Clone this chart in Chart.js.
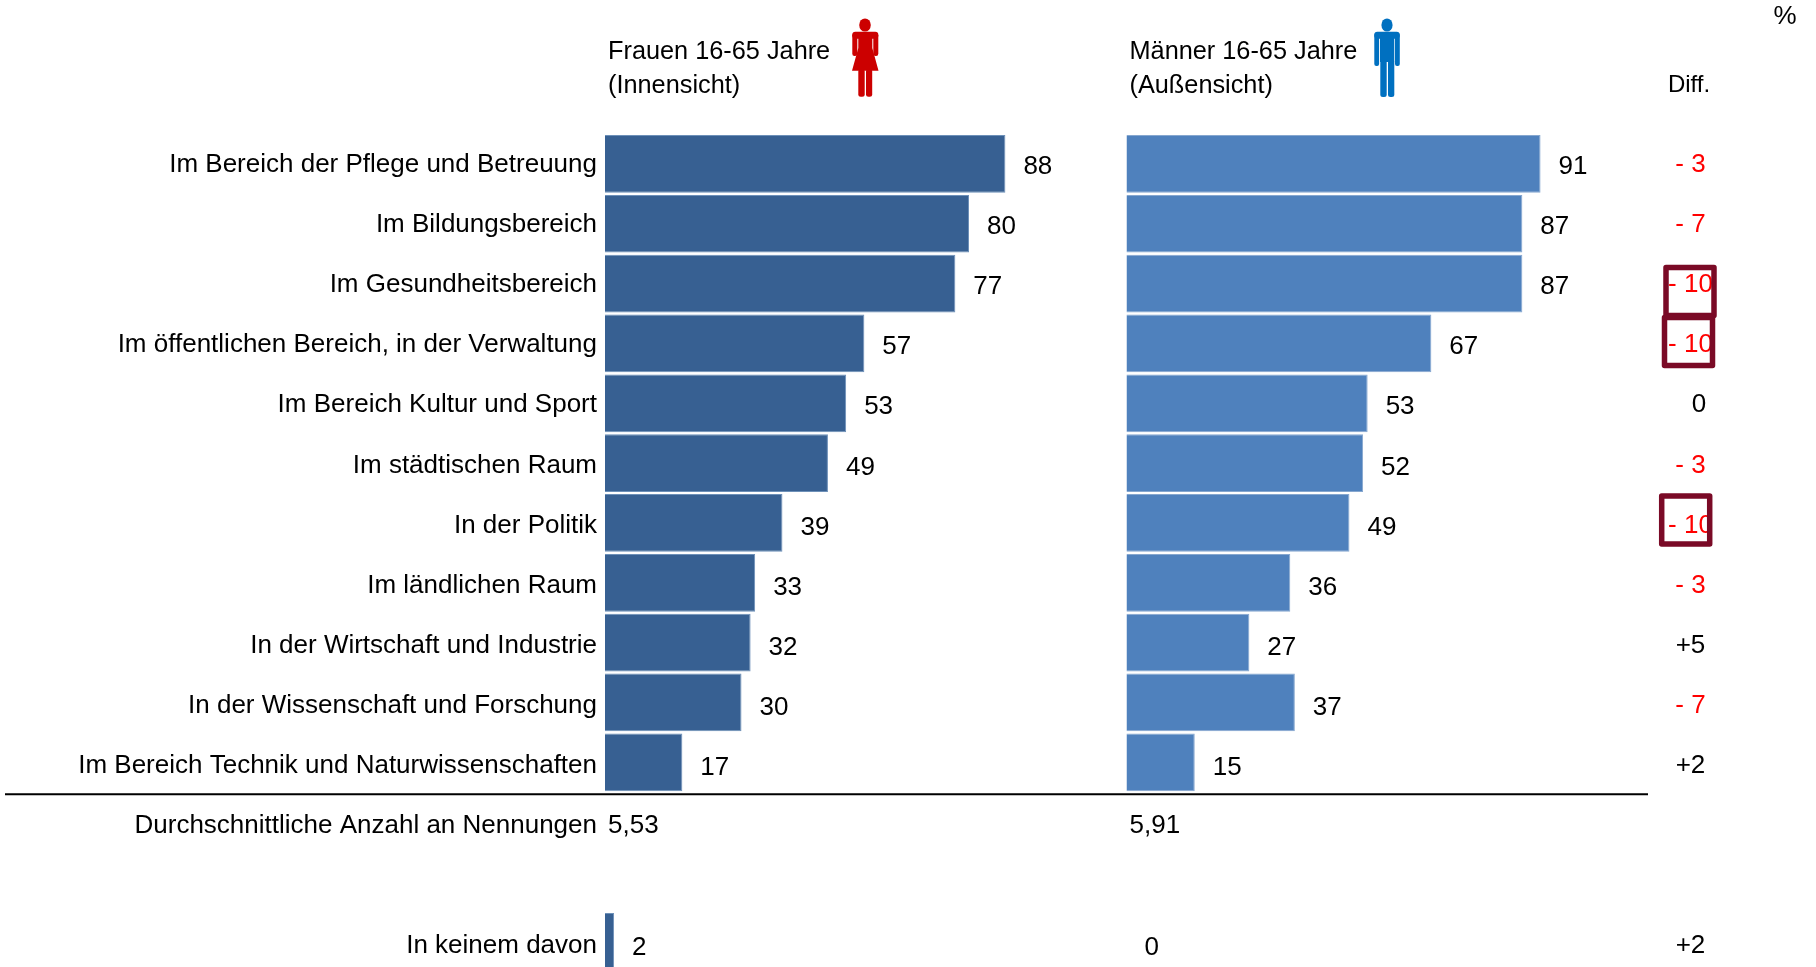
<!DOCTYPE html>
<html>
<head>
  <title>Frauen / Männer</title>
  <script src="https://cdn.jsdelivr.net/npm/chart.js"></script>
  <style>
    html, body { margin: 0; padding: 0; background: #fff; overflow: hidden; }
    canvas { display: block; }
  </style>
</head>
<body>
  <canvas id="chart" width="1816" height="1000"></canvas>

  <script>
    const categories = [
      'Im Bereich der Pflege und Betreuung',
      'Im Bildungsbereich',
      'Im Gesundheitsbereich',
      'Im öffentlichen Bereich, in der Verwaltung',
      'Im Bereich Kultur und Sport',
      'Im städtischen Raum',
      'In der Politik',
      'Im ländlichen Raum',
      'In der Wirtschaft und Industrie',
      'In der Wissenschaft und Forschung',
      'Im Bereich Technik und Naturwissenschaften',
      'Durchschnittliche Anzahl an Nennungen',
      '',
      'In keinem davon'
    ];
    const frauen = [88, 80, 77, 57, 53, 49, 39, 33, 32, 30, 17, null, null, 2];
    const maenner = [91, 87, 87, 67, 53, 52, 49, 36, 27, 37, 15, null, null, 0];
    const diffs = ['- 3', '- 7', '- 10', '- 10', '0', '- 3', '- 10', '- 3', '+5', '- 7', '+2', '', '', '+2'];
    const averages = ['5,53', '5,91'];
    const headers = [['Frauen 16-65 Jahre', '(Innensicht)'], ['Männer 16-65 Jahre', '(Außensicht)']];

    const FAMILY = '"Liberation Sans", Arial, sans-serif';
    const PX_PER_UNIT = 4.55;
    const LEFT = 605, RIGHT_ZERO = 1126.5, W = 1816;

    function drawWoman(c) {
      c.fillStyle = '#cc0000';
      c.beginPath(); c.ellipse(865, 25, 5.8, 6.6, 0, 0, 7); c.fill();
      c.beginPath(); c.roundRect(852.3, 31.7, 26, 7, 3); c.fill();
      c.beginPath(); c.roundRect(852.3, 33, 5, 23, 2.2); c.fill();
      c.beginPath(); c.roundRect(873.3, 33, 5, 23, 2.2); c.fill();
      c.beginPath();
      c.moveTo(858.3, 33); c.lineTo(872.3, 33); c.lineTo(872.3, 48);
      c.lineTo(878.5, 70.7); c.lineTo(852, 70.7); c.lineTo(858.3, 48);
      c.closePath(); c.fill();
      c.beginPath(); c.roundRect(858.3, 69, 6.4, 27.7, 2.5); c.fill();
      c.beginPath(); c.roundRect(866, 69, 6.2, 27.7, 2.5); c.fill();
    }

    function drawMan(c) {
      c.fillStyle = '#0070c0';
      c.beginPath(); c.ellipse(1387, 25, 5.6, 6.6, 0, 0, 7); c.fill();
      c.beginPath(); c.roundRect(1374.3, 31.7, 25.4, 7, 3); c.fill();
      c.beginPath(); c.roundRect(1374.3, 33, 4.8, 33, 2); c.fill();
      c.beginPath(); c.roundRect(1395, 33, 4.8, 33, 2); c.fill();
      c.fillRect(1380, 33, 14.3, 29);
      c.beginPath(); c.roundRect(1380.3, 60, 6.4, 37, 2.5); c.fill();
      c.beginPath(); c.roundRect(1388, 60, 6.3, 37, 2.5); c.fill();
    }

    const overlay = {
      id: 'overlay',
      afterDatasetsDraw(chart) {
        const c = chart.ctx;
        const y = chart.scales.y;
        const zeros = [chart.scales.xF.getPixelForValue(0), chart.scales.xM.getPixelForValue(0)];
        // the text rows of the original run on a slightly wider pitch than its bars
        const textY = i => y.getPixelForValue(i) + 1 + 0.25 * i;

        c.save();
        c.font = '26px ' + FAMILY;
        c.fillStyle = '#000';
        c.textBaseline = 'middle';

        // rule under the last bar
        c.strokeStyle = '#000';
        c.lineWidth = 2;
        c.beginPath();
        c.moveTo(5, y.getPixelForValue(10.5) + 2);
        c.lineTo(1648, y.getPixelForValue(10.5) + 2);
        c.stroke();

        // category labels
        c.textAlign = 'right';
        categories.forEach((t, i) => c.fillText(t, LEFT - 8, textY(i)));

        // value labels
        c.textAlign = 'left';
        [frauen, maenner].forEach((vals, d) => {
          const meta = chart.getDatasetMeta(d);
          vals.forEach((v, i) => {
            if (v === null) return;
            c.fillText(v, meta.data[i].x + 18, textY(i) + 2);
          });
        });

        // averages and column heads
        averages.forEach((t, d) => c.fillText(t, zeros[d] + 3, textY(11)));
        c.font = '25.3px ' + FAMILY;
        headers.forEach((h, d) => {
          c.fillText(h[0], zeros[d] + 3, 52);
          c.fillText(h[1], zeros[d] + 3, 86.5);
        });

        // difference column
        c.textAlign = 'center';
        c.font = '24px ' + FAMILY;
        c.fillText('Diff.', 1689, 85);
        c.font = '26px ' + FAMILY;
        c.fillText('%', 1785, 17);
        diffs.forEach((t, i) => {
          if (!t) return;
          c.fillStyle = t[0] === '-' ? '#ff0000' : '#000';
          c.fillText(t, t === '0' ? 1699 : 1690.5, textY(i));
        });

        // highlight boxes, on top of the text like in the original
        const boxes = [[2, 1690, 8], [3, 1688.5, -2], [6, 1685.7, -3]];
        c.strokeStyle = '#7a0a26';
        c.lineWidth = 5.5;
        c.lineJoin = 'round';
        boxes.forEach(([i, cx, dy]) => {
          c.strokeRect(cx - 24, y.getPixelForValue(i) + dy - 24, 48, 48);
        });

        drawWoman(c);
        drawMan(c);
        c.restore();
      }
    };

    new Chart(document.getElementById('chart'), {
      type: 'bar',
      data: {
        labels: categories,
        datasets: [
          { data: frauen, xAxisID: 'xF', backgroundColor: '#376092', borderColor: '#6d90b8', borderWidth: 1 },
          { data: maenner, xAxisID: 'xM', backgroundColor: '#4f81bd', borderColor: '#86a7cf', borderWidth: 1 }
        ]
      },
      options: {
        indexAxis: 'y',
        responsive: false,
        animation: false,
        events: [],
        grouped: false,
        barPercentage: 1,
        categoryPercentage: 0.965,
        layout: { padding: { top: 134, bottom: 28.3, left: 0, right: 0 } },
        plugins: { legend: { display: false }, tooltip: { enabled: false } },
        scales: {
          xF: { display: false, min: 0, max: (W - LEFT) / PX_PER_UNIT },
          xM: { display: false, min: (LEFT - RIGHT_ZERO) / PX_PER_UNIT, max: (W - RIGHT_ZERO) / PX_PER_UNIT },
          y: {
            grid: { display: false, drawTicks: false },
            border: { display: false },
            ticks: { display: false },
            afterFit(scale) { scale.width = LEFT; }
          }
        }
      },
      plugins: [overlay]
    });
  </script>
</body>
</html>
